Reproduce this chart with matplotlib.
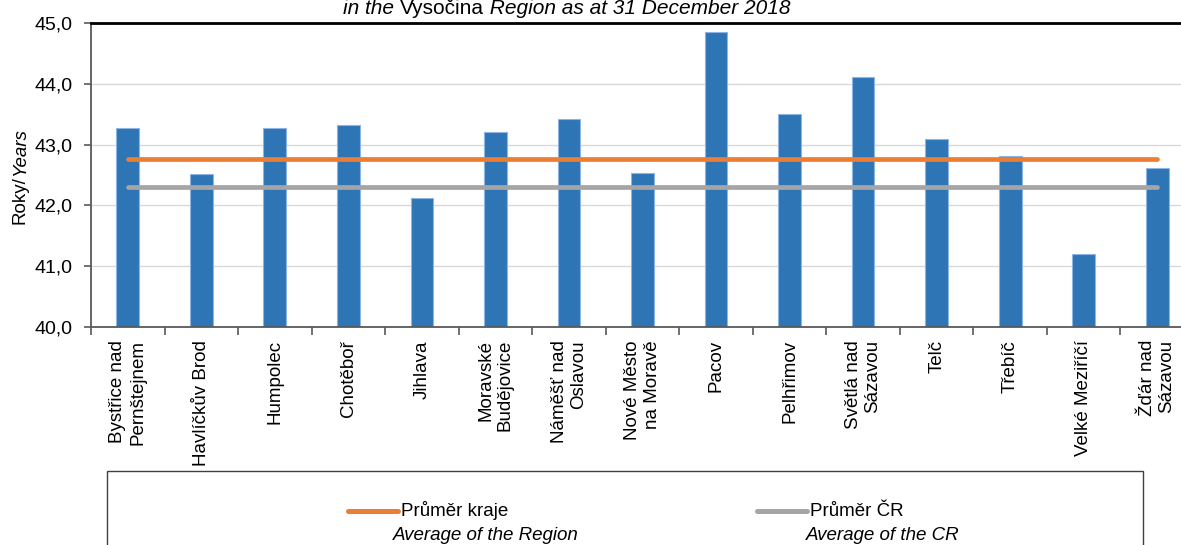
import matplotlib
matplotlib.use('Agg')
import matplotlib.pyplot as plt
import numpy as np
from matplotlib.patches import Rectangle
from matplotlib.lines import Line2D
from matplotlib.ticker import FuncFormatter

plt.rcParams['font.family'] = ['Liberation Sans', 'DejaVu Sans']

# average age by administrative district, Vysočina, 31.12.2018
towns = ['Bystřice nad\nPernštejnem', 'Havlíčkův Brod', 'Humpolec', 'Chotěboř', 'Jihlava',
         'Moravské\nBudějovice', 'Náměšť nad\nOslavou', 'Nové Město\nna Moravě', 'Pacov',
         'Pelhřimov', 'Světlá nad\nSázavou', 'Telč', 'Třebíč', 'Velké Meziříčí',
         'Žďár nad\nSázavou']
ages = [43.27, 42.52, 43.28, 43.32, 42.12, 43.21, 43.42, 42.53, 44.86,
        43.50, 44.12, 43.10, 42.82, 41.20, 42.61]
region_avg = 42.76
cr_avg = 42.30

BLUE = '#2E75B6'
ORANGE = '#ED7D31'
GREY = '#A5A5A5'

W, H = 1181, 545
fig = plt.figure(figsize=(W / 100, H / 100), dpi=100)
ax = fig.add_axes([91 / W, 1 - 327 / H, (1194 - 91) / W, (327 - 23) / H])

x = np.arange(len(towns))
ax.bar(x, ages, width=0.31, bottom=0, color=BLUE, edgecolor='#8db4e2',
       linewidth=0.8, zorder=2)
ax.plot(x, [region_avg] * len(x), color=ORANGE, lw=3.4, solid_capstyle='round', zorder=3)
ax.plot(x, [cr_avg] * len(x), color=GREY, lw=3.4, solid_capstyle='round', zorder=3)

ax.set_xlim(-0.5, len(towns) - 0.5)
ax.set_ylim(40, 45)
ax.set_yticks(np.arange(40, 46, 1))
ax.yaxis.set_major_formatter(FuncFormatter(lambda v, p: f'{v:.1f}'.replace('.', ',')))
ax.yaxis.grid(True, color='#d9d9d9', lw=1, zorder=0)
ax.set_axisbelow(True)

# category boundaries get the tick marks, names sit in between
ax.set_xticks(np.arange(-0.5, len(towns), 1))
ax.set_xticklabels([])
ax.set_xticks(x, towns, minor=True, rotation=90, fontsize=13.5, multialignment='right')
ax.tick_params(axis='x', which='major', length=6, width=1.2, color='#595959', direction='out')
ax.tick_params(axis='x', which='minor', length=0, pad=9.4)
ax.tick_params(axis='y', length=5, width=1.2, color='#595959', pad=8, labelsize=14)

for side in ['left', 'bottom']:
    ax.spines[side].set_color('#595959')
    ax.spines[side].set_linewidth(1.3)
ax.spines['right'].set_visible(False)
ax.spines['top'].set_color('black')
ax.spines['top'].set_linewidth(2)

renderer = fig.canvas.get_renderer()


def put_pieces(pieces, x_px, y_px, size, rotation=0):
    # lay out text runs of different style one after another, centred on x_px/y_px
    widths = []
    for s, st in pieces:
        t = fig.text(0, 0, s, fontsize=size, style=st)
        widths.append(t.get_window_extent(renderer).width)
        t.remove()
    pos = -sum(widths) / 2
    for (s, st), w in zip(pieces, widths):
        if rotation == 0:
            px, py = x_px + pos, y_px
        else:
            px, py = x_px, y_px - pos
        fig.text(px / 100, (H - py) / 100, s, fontsize=size, style=st, rotation=rotation,
                 rotation_mode='anchor', ha='left', va='baseline',
                 transform=fig.dpi_scale_trans)
        pos += w


put_pieces([('in the ', 'italic'), ('Vysočina', 'normal'),
            (' Region as at 31 December 2018', 'italic')], 567, 14, 15)
put_pieces([('Roky/', 'normal'), ('Years', 'italic')], 25, 176, 13.5, rotation=90)

# legend box below the axis labels
tr = fig.dpi_scale_trans
fig.add_artist(Rectangle((1.07, -0.6), 10.36, (545 - 471) / 100 + 0.6, fill=False,
                         edgecolor='#404040', lw=1, transform=tr))
legend_items = [(ORANGE, 348, 'Průměr kraje', 'Average of the Region', 393),
                (GREY, 757, 'Průměr ČR', 'Average of the CR', 806)]
for color, x0, cz, en, x_en in legend_items:
    fig.add_artist(Line2D([x0 / 100, (x0 + 50) / 100], [(H - 511) / 100] * 2, color=color,
                          lw=3.6, solid_capstyle='round', transform=tr))
    fig.text((x0 + 53) / 100, (H - 511) / 100, cz, fontsize=13.5, va='center',
             transform=tr)
    fig.text(x_en / 100, (H - 535) / 100, en, fontsize=13.5, style='italic',
             va='center', transform=tr)

fig.savefig('out.png', dpi=100)
